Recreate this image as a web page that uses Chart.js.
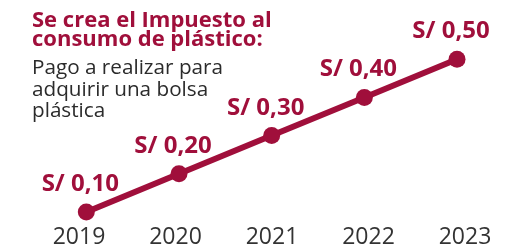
<!DOCTYPE html>
<html lang="es">
<head>
  <meta charset="UTF-8" />
  <title>Impuesto al consumo de plástico</title>
  <script src="https://cdn.jsdelivr.net/npm/chart.js"></script>
  <style>
    html, body { margin: 0; padding: 0; background: #fff; }
    #wrap { position: relative; width: 505px; height: 249px; }
    #titulo { position: absolute; left: 32px; top: 8.7px; }
    #titulo h1 { margin: 0; font-family: "Open Sans", sans-serif; font-size: 22px; line-height: 19.5px; font-weight: 700; color: #a00f3b; }
    #titulo p { margin: 8.4px 0 0 0; font-family: "Open Sans", sans-serif; font-size: 20.7px; line-height: 21.5px; color: #2b2b2b; }
  </style>
</head>
<body>
  <div id="wrap">
    <canvas id="grafica" width="505" height="249"></canvas>
    <div id="titulo">
      <h1>Se crea el Impuesto al<br>consumo de plástico:</h1>
      <p>Pago a realizar para<br>adquirir una bolsa<br>plástica</p>
    </div>
  </div>

  <script>
    const anios = [2019, 2020, 2021, 2022, 2023];
    const etiquetasAnios = ['2019', '2020', '2021', '2022', '2023'];
    const impuesto = [0.10, 0.20, 0.30, 0.40, 0.50];
    const etiquetasValor = ['S/ 0,10', 'S/ 0,20', 'S/ 0,30', 'S/ 0,40', 'S/ 0,50'];

    const granate = '#a00f3b';

    // etiquetas de valor encima de cada punto
    const etiquetasPlugin = {
      id: 'etiquetas',
      afterDatasetsDraw(chart) {
        const ctx = chart.ctx;
        const meta = chart.getDatasetMeta(0);
        ctx.save();
        ctx.font = 'bold 24px "Open Sans", sans-serif';
        ctx.fillStyle = granate;
        ctx.textAlign = 'center';
        ctx.textBaseline = 'alphabetic';
        meta.data.forEach((p, i) => {
          ctx.fillText(etiquetasValor[i], p.x - 6, p.y - 21);
        });
        ctx.restore();
      }
    };

    new Chart(document.getElementById('grafica'), {
      type: 'line',
      data: {
        datasets: [{
          data: anios.map((a, i) => ({ x: a, y: impuesto[i] })),
          borderColor: granate,
          backgroundColor: granate,
          borderWidth: 6,
          pointRadius: 8.5,
          pointHoverRadius: 8.5,
          pointBorderWidth: 0,
          tension: 0,
          clip: false,
          xAxisID: 'x'
        }]
      },
      options: {
        responsive: false,
        animation: false,
        layout: { padding: { left: 79, right: 40, top: 0, bottom: -5 } },
        plugins: { legend: { display: false }, tooltip: { enabled: false } },
        scales: {
          x: { type: 'linear', display: false, min: 2018.921, max: 2023.086 },
          xl: {
            type: 'category',
            position: 'bottom',
            labels: etiquetasAnios,
            offset: false,
            grid: { display: false },
            border: { display: false },
            ticks: { color: '#333', font: { family: 'Open Sans', size: 23 }, padding: 3, maxRotation: 0, autoSkip: false }
          },
          y: { display: false, min: 0.0987, max: 0.6330 }
        }
      },
      plugins: [etiquetasPlugin]
    });
  </script>
</body>
</html>
